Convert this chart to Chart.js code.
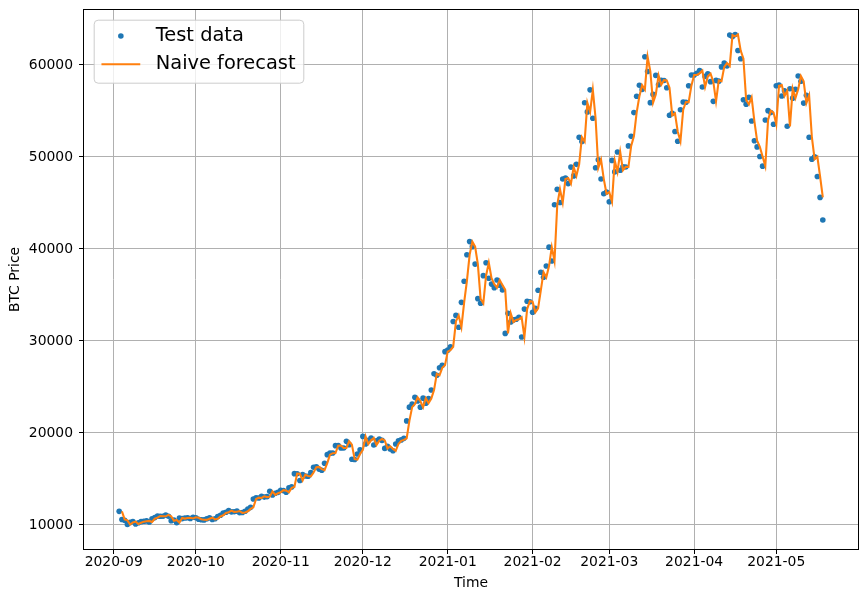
<!DOCTYPE html>
<html>
<head>
<meta charset="utf-8">
<script src="https://cdn.jsdelivr.net/npm/chart.js@4.4.0/dist/chart.umd.min.js"></script>
<style>
  html, body { margin: 0; padding: 0; background: #fff; }
  #wrap { width: 868px; height: 602px; }
</style>
</head>
<body>
<div id="wrap"><canvas id="grafico" width="868" height="602"></canvas></div>
<script>
// BTC price, test data (one value per day)
const sep2020 = [11480, 10600, 10500, 10050, 10280, 10370, 10100, 10240, 10360, 10400, 10440, 10330, 10680, 10800,
  10970, 10950, 10940, 11090, 10940, 10460, 10540, 10250, 10760, 10690, 10750, 10780, 10710, 10840];
const oct2020 = [10785, 10620, 10570, 10550, 10670, 10790, 10600, 10670, 10925, 11050, 11300, 11380, 11555, 11425,
  11430, 11505, 11320, 11360, 11485, 11740, 11915, 12825, 12965, 12930, 13110, 13030, 13075, 13655, 13270, 13440, 13545];
const nov2020 = [13780, 13735, 13550, 14030, 14135, 15580, 15565, 14835, 15480, 15330, 15290, 15700, 16275, 16315,
  16070, 15955, 16715, 17645, 17805, 17815, 18620, 18640, 18370, 18365, 19105, 18730, 17150, 17110, 17715, 18175];
const dec2020 = [19625, 18800, 19200, 19445, 18700, 19155, 19345, 19190, 18320, 18555, 18265, 18060, 18805, 19140,
  19245, 19415, 21310, 22805, 23135, 23870, 23475, 22805, 23785, 23240, 23735, 24665, 26435, 26270, 27085, 27360, 28840];
const jan2021 = [29000, 29375, 32125, 32780, 31500, 34200, 36500, 39370, 40800, 40255, 38355, 34600, 34100, 37100,
  38500, 36825, 36180, 35790, 36630, 36070, 35550, 30825, 33005, 32070, 32290, 32365, 32570, 30430, 33465, 34315, 34270];
const feb2021 = [33115, 33540, 35510, 37475, 36925, 38145, 40200, 38700, 44800, 46480, 45050, 47600, 47700, 47105,
  48900, 47945, 49200, 52150, 51680, 55890, 54900, 57300, 54210, 48825, 49705, 47600, 46000, 46190];
const mar2021 = [45135, 49630, 48380, 50540, 48560, 48930, 48910, 51205, 52245, 54825, 56600, 57805, 57335, 60900,
  59300, 55905, 56805, 58870, 57860, 58345, 58315, 57525, 54530, 54740, 52775, 51705, 55135, 55975, 55950, 57750, 58920];
const apr2021 = [58920, 59095, 59385, 57605, 58760, 59055, 58190, 56050, 58325, 58245, 59795, 60205, 59895, 63250,
  63110, 63315, 61570, 60685, 56215, 55725, 56475, 53905, 51760, 51095, 50050, 49005, 54020, 55035, 54825, 53555];
const may2021 = [57750, 57830, 56630, 57200, 53335, 57425, 56395, 57355, 58805, 58230, 55860, 56705, 52150, 49764,
  50033, 47886, 45605, 43144];

// first date of each block
const blocks = [
  ['2020-09-03', sep2020], ['2020-10-01', oct2020], ['2020-11-01', nov2020], ['2020-12-01', dec2020],
  ['2021-01-01', jan2021], ['2021-02-01', feb2021], ['2021-03-01', mar2021], ['2021-04-01', apr2021],
  ['2021-05-01', may2021]
];

const xTickLabels = ['2020-09', '2020-10', '2020-11', '2020-12', '2021-01', '2021-02', '2021-03', '2021-04', '2021-05'];
const yTicks = [10000, 20000, 30000, 40000, 50000, 60000];

// days since 2020-09-01
const origem = Date.UTC(2020, 8, 1);
function dia(iso) {
  const [a, m, d] = iso.split('-').map(Number);
  return (Date.UTC(a, m - 1, d) - origem) / 86400000;
}

const testData = [];
blocks.forEach(([inicio, valores]) => {
  const d0 = dia(inicio);
  valores.forEach((v, i) => testData.push({ x: d0 + i, y: v }));
});
// naive forecast: yesterday's value
const naive = testData.slice(1).map((p, i) => ({ x: p.x, y: testData[i].y }));

const xTickDays = xTickLabels.map(l => dia(l + '-01'));

// matplotlib style 5% margins
const xs = testData.map(p => p.x), ys = testData.map(p => p.y);
const xMin = Math.min(...xs), xMax = Math.max(...xs);
const yMin = Math.min(...ys), yMax = Math.max(...ys);
const mx = (xMax - xMin) * 0.05, my = (yMax - yMin) * 0.05;

Chart.defaults.font.family = '"DejaVu Sans", sans-serif';
const fonte = { size: 13.9 };

// box around the plot
const moldura = {
  id: 'moldura',
  afterDatasetsDraw(chart) {
    const { ctx, chartArea: a } = chart;
    ctx.save();
    ctx.strokeStyle = '#000';
    ctx.lineWidth = 1;
    ctx.strokeRect(a.left - 0.5, a.top - 0.5, a.right - a.left + 1, a.bottom - a.top + 1);
    ctx.restore();
  }
};

// legend drawn inside the plot, upper left
const legenda = {
  id: 'legenda',
  afterDraw(chart) {
    const { ctx, chartArea: a } = chart;
    const fs = 19.4;
    const ds = chart.data.datasets;
    ctx.save();
    ctx.font = fs + 'px "DejaVu Sans"';
    const textW = Math.max(...ds.map(d => ctx.measureText(d.label).width));
    const x0 = a.left + 0.5 * fs, y0 = a.top + 0.5 * fs;
    const w = 0.4 * fs + 2 * fs + 0.8 * fs + textW + 0.4 * fs;
    const h = 63;
    ctx.beginPath();
    ctx.roundRect(x0 + 0.5, y0 + 0.5, w, h, 4);
    ctx.fillStyle = 'rgba(255,255,255,0.8)';
    ctx.fill();
    ctx.strokeStyle = '#cccccc';
    ctx.lineWidth = 1;
    ctx.stroke();

    const hx = x0 + 0.4 * fs;
    const tx = hx + 2.8 * fs;
    const rows = [y0 + 16.3, y0 + 44.6];
    // dot
    ctx.fillStyle = ds[1].backgroundColor;
    ctx.beginPath();
    ctx.arc(hx + fs, rows[0], 2.8, 0, Math.PI * 2);
    ctx.fill();
    // line
    ctx.strokeStyle = ds[0].borderColor;
    ctx.lineWidth = 2.08;
    ctx.beginPath();
    ctx.moveTo(hx, rows[1]);
    ctx.lineTo(hx + 2 * fs, rows[1]);
    ctx.stroke();

    ctx.fillStyle = '#000';
    ctx.textBaseline = 'middle';
    ctx.fillText(ds[1].label, tx, rows[0]);
    ctx.fillText(ds[0].label, tx, rows[1]);
    ctx.restore();
  }
};

new Chart(document.getElementById('grafico'), {
  type: 'line',
  data: {
    datasets: [
      {
        label: 'Naive forecast',
        data: naive,
        borderColor: '#ff7f0e',
        borderWidth: 2.08,
        pointRadius: 0,
        tension: 0,
        fill: false,
        order: 1
      },
      {
        label: 'Test data',
        data: testData,
        showLine: false,
        backgroundColor: '#1f77b4',
        borderColor: '#1f77b4',
        pointRadius: 2.8,
        pointBorderWidth: 0,
        order: 2
      }
    ]
  },
  options: {
    responsive: false,
    animation: false,
    devicePixelRatio: 1,
    layout: { padding: { left: 0, right: 10, top: 10, bottom: 0 } },
    plugins: { legend: { display: false }, tooltip: { enabled: false } },
    scales: {
      x: {
        type: 'linear',
        min: xMin - mx,
        max: xMax + mx,
        afterBuildTicks: s => { s.ticks = xTickDays.map(v => ({ value: v })); },
        afterFit: s => { s.height = 53; s.paddingLeft = 0; s.paddingRight = 0; },
        grid: { color: '#b0b0b0', lineWidth: 1, tickColor: '#000', tickLength: 5, tickWidth: 1 },
        border: { display: false },
        ticks: {
          color: '#000', font: fonte, padding: 0, maxRotation: 0, autoSkip: false,
          callback: v => xTickLabels[xTickDays.indexOf(v)]
        },
        title: { display: true, text: 'Time', color: '#000', font: fonte, padding: { top: 0, bottom: 10 } }
      },
      y: {
        type: 'linear',
        min: yMin - my,
        max: yMax + my,
        afterBuildTicks: s => { s.ticks = yTicks.map(v => ({ value: v })); },
        afterFit: s => { s.width = 84; s.paddingTop = 0; s.paddingBottom = 0; },
        grid: { color: '#b0b0b0', lineWidth: 1, tickColor: '#000', tickLength: 5, tickWidth: 1 },
        border: { display: false },
        ticks: { color: '#000', font: fonte, padding: 6, callback: v => String(v) },
        title: { display: true, text: 'BTC Price', color: '#000', font: fonte, padding: { top: 7.5, bottom: 0 } }
      }
    }
  },
  plugins: [moldura, legenda]
});
</script>
</body>
</html>
